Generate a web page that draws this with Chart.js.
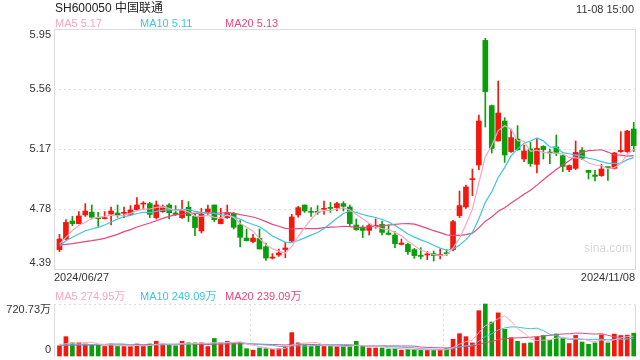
<!DOCTYPE html>
<html>
<head>
<meta charset="utf-8">
<script src="https://cdn.jsdelivr.net/npm/chart.js@4.4.1/dist/chart.umd.min.js"></script>
<style>
body{margin:0;background:#fff;font-family:Arial,"Liberation Sans","Noto Sans CJK SC",sans-serif}
#wrap{position:relative;width:640px;height:360px;overflow:hidden;background:#fff}
#wrap canvas{position:absolute;left:0;top:0}
.t{position:absolute;white-space:nowrap;font-size:11px;line-height:12px}
</style>
</head>
<body>
<div id="wrap">
  <canvas id="kline" width="640" height="360"></canvas>
  <canvas id="vol" width="640" height="360"></canvas>
  <div class="t" style="left:55px;top:2px;font-size:12px;color:#222">SH600050 中国联通</div>
  <div class="t" style="right:6px;top:3px;color:#333">11-08 15:00</div>
  <div id="maText"></div>
  <div id="volMaText"></div>
  <div class="t" style="left:584px;top:242px;font-size:12px;color:#d8d8d8">sina.com</div>
</div>
<script>
// first and last trading day shown under the chart
var dates = ['2024/06/27', '2024/11/08']

// daily candles, 2024/06/27 .. 2024/11/08
var opens = [4.516,4.585,4.702,4.685,4.741,4.760,4.722,4.717,4.747,4.754,
  4.752,4.745,4.776,4.812,4.815,4.724,4.763,4.806,4.754,4.724,
  4.791,4.732,4.637,4.763,4.806,4.685,4.724,4.752,4.676,4.591,
  4.568,4.589,4.535,4.461,4.481,4.516,4.572,4.741,4.806,4.763,
  4.763,4.778,4.789,4.789,4.815,4.793,4.676,4.659,4.641,4.667,
  4.680,4.624,4.611,4.550,4.550,4.516,4.477,4.481,4.490,4.477,
  4.494,4.516,4.737,4.793,4.971,5.066,5.876,5.452,5.222,5.352,
  5.153,5.235,5.105,5.170,5.070,5.187,5.148,5.183,5.127,5.036,
  5.044,5.161,5.031,5.001,4.997,5.053,5.044,5.153,5.153,5.300]
var highs = [4.615,4.711,4.732,4.763,4.815,4.806,4.758,4.763,4.793,4.806,
  4.793,4.802,4.854,4.828,4.823,4.832,4.806,4.815,4.802,4.836,
  4.828,4.745,4.784,4.806,4.806,4.784,4.806,4.758,4.704,4.650,
  4.615,4.650,4.559,4.490,4.520,4.563,4.745,4.797,4.806,4.789,
  4.802,4.832,4.823,4.823,4.828,4.806,4.715,4.672,4.685,4.715,
  4.702,4.676,4.633,4.585,4.559,4.524,4.529,4.503,4.507,4.520,
  4.516,4.706,4.897,4.936,5.040,5.391,5.889,5.456,5.612,5.374,
  5.300,5.322,5.196,5.213,5.235,5.192,5.170,5.261,5.131,5.066,
  5.222,5.179,5.031,5.031,5.070,5.053,5.148,5.283,5.291,5.343]
var lows = [4.503,4.581,4.672,4.683,4.732,4.715,4.667,4.715,4.676,4.726,
  4.724,4.741,4.771,4.776,4.724,4.715,4.758,4.715,4.737,4.719,
  4.698,4.607,4.624,4.745,4.698,4.683,4.719,4.650,4.533,4.572,
  4.559,4.520,4.446,4.455,4.472,4.464,4.568,4.726,4.758,4.732,
  4.745,4.745,4.758,4.767,4.767,4.672,4.641,4.594,4.611,4.654,
  4.611,4.611,4.529,4.546,4.485,4.459,4.455,4.450,4.442,4.455,
  4.477,4.507,4.724,4.784,4.867,5.036,5.313,5.144,5.222,5.083,
  5.148,5.161,5.088,5.057,5.014,5.105,5.075,5.127,5.023,5.023,
  5.036,5.101,4.975,4.962,4.992,4.966,5.040,5.148,5.148,5.153]
var closes = [4.585,4.693,4.685,4.735,4.767,4.726,4.717,4.722,4.767,4.741,
  4.756,4.774,4.806,4.817,4.745,4.806,4.795,4.756,4.743,4.776,
  4.737,4.659,4.745,4.780,4.711,4.715,4.758,4.661,4.596,4.574,
  4.591,4.520,4.461,4.466,4.494,4.527,4.728,4.789,4.767,4.758,
  4.758,4.784,4.784,4.815,4.797,4.685,4.646,4.641,4.672,4.672,
  4.628,4.615,4.555,4.559,4.503,4.477,4.472,4.485,4.477,4.485,
  4.490,4.698,4.802,4.923,4.975,5.352,5.543,5.174,5.404,5.131,
  5.244,5.166,5.157,5.075,5.174,5.166,5.144,5.148,5.057,5.062,
  5.148,5.109,5.018,4.992,5.040,5.049,5.144,5.161,5.287,5.192]

// price moving averages as they appear on the chart
var ma5 = [4.552,4.596,4.640,4.675,4.693,4.721,4.726,4.733,4.740,4.735,
  4.741,4.752,4.769,4.779,4.780,4.790,4.794,4.784,4.769,4.775,
  4.761,4.734,4.732,4.739,4.726,4.722,4.742,4.725,4.688,4.661,
  4.636,4.588,4.548,4.522,4.506,4.494,4.535,4.601,4.661,4.714,
  4.760,4.771,4.770,4.780,4.788,4.773,4.745,4.717,4.688,4.663,
  4.652,4.646,4.628,4.606,4.572,4.542,4.513,4.499,4.483,4.479,
  4.482,4.527,4.590,4.680,4.778,4.950,5.119,5.193,5.290,5.321,
  5.299,5.224,5.220,5.155,5.163,5.148,5.143,5.141,5.138,5.115,
  5.112,5.105,5.079,5.066,5.061,5.042,5.049,5.077,5.136,5.167]
var ma10 = [4.537,4.574,4.596,4.617,4.639,4.650,4.661,4.676,4.695,4.714,
  4.731,4.739,4.751,4.759,4.757,4.765,4.773,4.776,4.774,4.777,
  4.776,4.764,4.758,4.754,4.751,4.742,4.738,4.729,4.714,4.694,
  4.679,4.665,4.637,4.605,4.584,4.565,4.562,4.575,4.592,4.610,
  4.627,4.653,4.686,4.720,4.751,4.767,4.758,4.744,4.734,4.725,
  4.712,4.696,4.673,4.647,4.618,4.597,4.579,4.564,4.544,4.526,
  4.512,4.520,4.545,4.581,4.628,4.716,4.823,4.892,4.985,5.049,
  5.125,5.171,5.207,5.222,5.242,5.223,5.184,5.181,5.146,5.139,
  5.130,5.124,5.110,5.102,5.088,5.077,5.077,5.078,5.101,5.114]
var ma20 = [4.546,4.550,4.555,4.561,4.568,4.574,4.581,4.589,4.602,4.615,
  4.633,4.646,4.663,4.676,4.689,4.704,4.719,4.732,4.743,4.746,
  4.754,4.752,4.755,4.757,4.754,4.754,4.756,4.753,4.744,4.736,
  4.728,4.715,4.698,4.680,4.668,4.654,4.650,4.652,4.653,4.652,
  4.653,4.659,4.662,4.663,4.668,4.666,4.660,4.660,4.663,4.668,
  4.670,4.675,4.680,4.684,4.685,4.682,4.669,4.654,4.639,4.626,
  4.612,4.608,4.609,4.614,4.623,4.657,4.701,4.728,4.765,4.788,
  4.819,4.846,4.876,4.902,4.935,4.970,5.004,5.037,5.066,5.094,
  5.128,5.148,5.159,5.162,5.165,5.150,5.131,5.130,5.124,5.127]

// volume, in 万 shares
var volumes = [141,268,182,182,167,152,152,132,167,132,
  132,132,167,141,167,203,167,152,141,203,
  182,182,182,132,243,182,203,182,182,101,
  81,111,101,92,101,132,324,182,152,132,
  141,132,141,132,132,132,203,132,111,111,
  111,97,101,81,92,92,81,81,81,92,
  101,233,309,268,182,628,720.73,471,598,370,
  254,203,173,182,258,284,217,305,242,173,
  285,194,162,182,293,182,304,284,289,316]

// volume moving averages
var vma5 = [160,170,175,180,188,190.2,167,157,154,147,
  143,139,146,140.8,147.8,162,169,166,166,173.2,
  169,172,178,176.2,184.2,184.2,188.4,188.4,198.4,170,
  149.8,131.4,115.2,97.2,97.2,107.4,150,166.2,178.2,184.4,
  186.2,147.8,139.6,135.6,135.6,133.8,148,146.2,142,137.8,
  133.6,112.4,106.2,100.2,96.4,92.6,89.4,85.4,85.4,85.4,
  87.2,117.6,163.2,200.6,218.6,324,421.5,453.9,519.9,557.5,
  482.7,379.2,319.6,236.4,214,220,222.8,249.2,261.2,244.2,
  244.4,239.8,211.2,199.2,223.2,202.6,224.6,249,270.4,274.95]
var vma10 = [150,152,155,157,158,160,160,162,165,167.5,
  166.6,153,151.5,147.4,147.4,152.5,154,156,153.4,160.5,
  165.5,170.5,172,171.1,178.7,176.6,180.2,183.2,187.3,177.1,
  167,159.9,151.8,147.8,133.6,128.6,140.7,140.7,137.7,140.8,
  146.8,148.9,152.9,156.9,160,160,147.9,142.9,138.8,136.7,
  133.7,130.2,126.2,121.1,117.1,113.1,100.9,95.8,92.8,90.9,
  89.9,103.5,124.3,143,152,205.6,269.6,308.6,360.3,388.1,
  403.4,400.4,386.8,378.2,385.8,351.4,301,284.4,248.8,229.1,
  232.2,231.3,230.2,230.2,233.7,223.5,232.2,230.1,234.8,249.09]
var vma20 = [150,150,151,151,152,152,153,153,154,154,
  155,155,156,157,158,159,160,161,162,164,
  166.1,161.8,161.8,159.3,163.1,164.6,167.1,169.6,170.4,168.8,
  166.3,165.2,161.9,159.5,156.2,152.6,160.5,162,162.5,159,
  156.9,154.4,152.4,152.4,146.8,144.3,144.3,141.8,138.3,138.8,
  140.3,139.6,139.6,139,138.6,136.6,124.4,119.4,115.8,113.8,
  111.8,116.9,125.3,132.1,134.6,159.4,185.3,202.2,226.6,239.5,
  246.7,252,255.6,260.6,268.9,278.5,285.3,296.5,304.6,308.6,
  317.8,315.9,308.5,304.2,309.8,287.5,266.6,257.3,241.8,239.09]

var priceTicks = [5.95, 5.56, 5.17, 4.78, 4.39]
var volTicks = [720.73, 0]
var volTickLabels = ['720.73万', '0']
var maLabels = ['MA5 5.17', 'MA10 5.11', 'MA20 5.13']
var volMaLabels = ['MA5 274.95万', 'MA10 249.09万', 'MA20 239.09万']

var RED = '#f2180d', GREEN = '#0a9f0a'
var MA_COLORS = ['#f7a6c3', '#3cc5df', '#e8467c']
var GRID = '#dcdcdc'

var xs = closes.map(function(c, i){ return i })
var upDown = closes.map(function(c, i){ return c >= opens[i] ? RED : GREEN })

//legend texts, placed like the original
function putTexts(id, labels, top){
    var box = document.getElementById(id)
    var lefts = [55, 140, 225]
    for (var i = 0; i < labels.length; i++){
        var d = document.createElement('div')
        d.className = 't'
        d.style.left = lefts[i] + 'px'
        d.style.top = top + 'px'
        d.style.color = MA_COLORS[i]
        d.textContent = labels[i]
        box.appendChild(d)
    }
}
putTexts('maText', maLabels, 17)
putTexts('volMaText', volMaLabels, 290)

// frame, dotted grid and axis labels drawn from the chart's own scales
var framePlugin = {
    id: 'frame',
    beforeDatasetsDraw: function(chart, args, o){
        var ctx = chart.ctx, a = chart.chartArea
        var y = chart.scales.y, x = chart.scales.x
        ctx.save()
        ctx.strokeStyle = GRID
        ctx.lineWidth = 1
        ctx.setLineDash([2, 3])
        o.dashY.forEach(function(v){
            var py = Math.round(y.getPixelForValue(v)) + 0.5
            ctx.beginPath(); ctx.moveTo(a.left, py); ctx.lineTo(a.right, py); ctx.stroke()
        })
        o.dashX.forEach(function(v){
            var px = Math.round(x.getPixelForValue(v)) + 0.5
            ctx.beginPath(); ctx.moveTo(px, a.top); ctx.lineTo(px, a.bottom); ctx.stroke()
        })
        ctx.setLineDash([])
        ctx.beginPath()
        var l = Math.round(a.left) + 0.5, r = Math.round(a.right) + 0.5
        var t = Math.round(a.top) + 0.5, b = Math.round(a.bottom) + 0.5
        if (o.top){ ctx.moveTo(l, t); ctx.lineTo(r, t) }
        if (o.bottom){ ctx.moveTo(l, b); ctx.lineTo(r, b) }
        ctx.moveTo(l, t); ctx.lineTo(l, b)
        ctx.moveTo(r, t); ctx.lineTo(r, b)
        ctx.stroke()
        ctx.restore()
    },
    afterDraw: function(chart, args, o){
        var ctx = chart.ctx, a = chart.chartArea, y = chart.scales.y
        ctx.save()
        ctx.font = '11px Arial, "Liberation Sans", "Noto Sans CJK SC", sans-serif'
        ctx.fillStyle = '#333'
        ctx.textAlign = 'right'
        ctx.textBaseline = 'middle'
        o.ticks.forEach(function(v, i){
            var py = y.getPixelForValue(v)
            if (i == 0) py += 6
            if (i == o.ticks.length - 1) py -= 6
            ctx.fillText(o.labels[i], a.left - 3, py)
        })
        if (o.dates){
            ctx.textBaseline = 'top'
            ctx.textAlign = 'left'
            ctx.fillText(o.dates[0], a.left, a.bottom + 3)
            ctx.textAlign = 'right'
            ctx.fillText(o.dates[1], a.right, a.bottom + 3)
        }
        ctx.restore()
    }
}

var xScale = {type: 'linear', display: false, offset: false, min: -0.85, max: 89.2}

function lineSet(data, color, width){
    return {
        type: 'line',
        data: xs.map(function(i){ return {x: i, y: data[i]} }),
        borderColor: color,
        borderWidth: width,
        pointRadius: 0,
        tension: 0,
        clip: false,
        order: 0
    }
}

new Chart(document.getElementById('kline'), {
    type: 'bar',
    data: {
        datasets: [
            lineSet(ma5, MA_COLORS[0], 1.2),
            lineSet(ma10, MA_COLORS[1], 1.2),
            lineSet(ma20, MA_COLORS[2], 1.2),
            {
                data: xs.map(function(i){ return {x: i, y: [opens[i], closes[i]]} }),
                backgroundColor: upDown,
                barThickness: 5,
                minBarLength: 1,
                grouped: false,
                clip: false,
                order: 1
            },
            {
                data: xs.map(function(i){ return {x: i, y: [lows[i], highs[i]]} }),
                backgroundColor: upDown,
                barThickness: 1,
                grouped: false,
                clip: false,
                order: 2
            }
        ]
    },
    options: {
        responsive: false,
        animation: false,
        devicePixelRatio: 1,
        layout: {padding: {left: 54, right: 5, top: 29, bottom: 91}},
        scales: {
            x: xScale,
            y: {display: false, min: 4.39, max: 5.95}
        },
        plugins: {
            legend: {display: false},
            tooltip: {enabled: false},
            frame: {
                ticks: priceTicks,
                labels: priceTicks.map(function(v){ return v.toFixed(2) }),
                dashY: [5.56, 5.17, 4.78],
                dashX: [],
                top: true, bottom: true,
                dates: dates
            }
        }
    },
    plugins: [framePlugin]
})

new Chart(document.getElementById('vol'), {
    type: 'bar',
    data: {
        datasets: [
            lineSet(vma5, MA_COLORS[0], 1),
            lineSet(vma10, MA_COLORS[1], 1),
            lineSet(vma20, MA_COLORS[2], 1),
            {
                data: xs.map(function(i){ return {x: i, y: volumes[i]} }),
                backgroundColor: upDown,
                barThickness: 4,
                clip: false,
                order: 1
            }
        ]
    },
    options: {
        responsive: false,
        animation: false,
        devicePixelRatio: 1,
        layout: {padding: {left: 54, right: 5, top: 304, bottom: 4}},
        scales: {
            x: xScale,
            y: {display: false, min: 0, max: 720.73}
        },
        plugins: {
            legend: {display: false},
            tooltip: {enabled: false},
            frame: {
                ticks: volTicks,
                labels: volTickLabels,
                dashY: [720.73],
                dashX: [29.5, 59.5],
                top: false, bottom: false
            }
        }
    },
    plugins: [framePlugin]
})
</script>
</body>
</html>
